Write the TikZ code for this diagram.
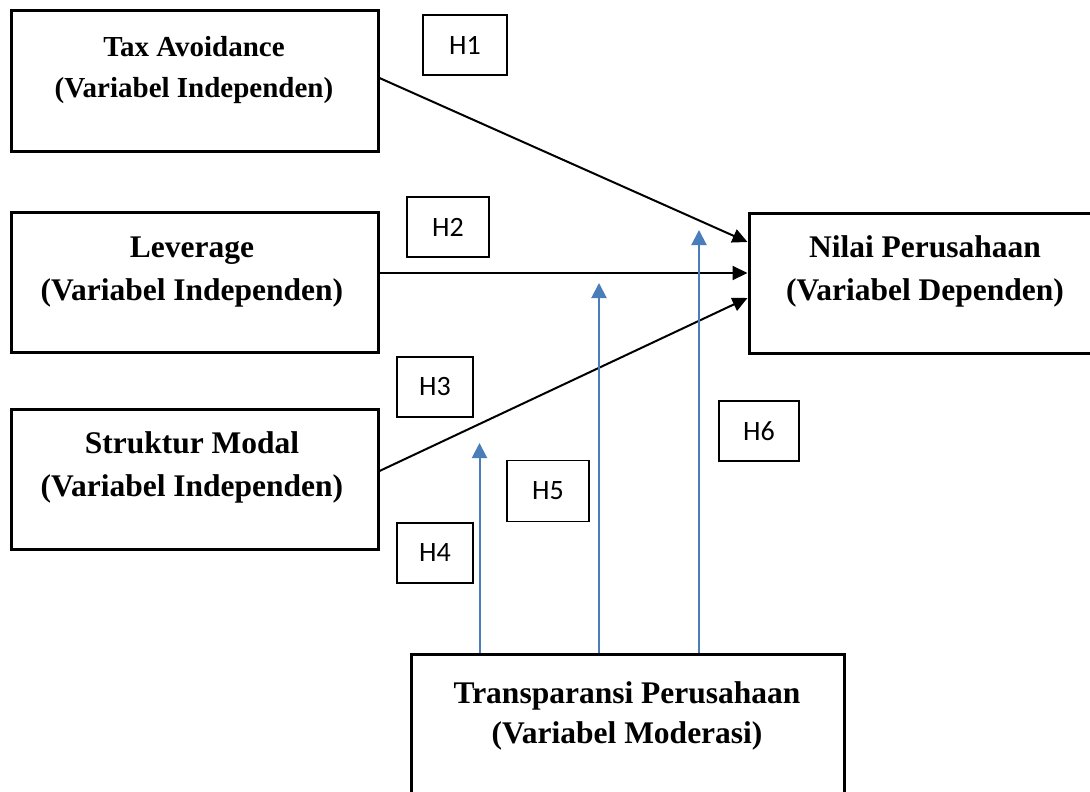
\documentclass[tikz,border=0pt]{standalone}
\usepackage{fontspec}
\setmainfont{Liberation Serif}
\newfontfamily\hfont{Carlito}
\usetikzlibrary{arrows.meta,calc}
\definecolor{modblue}{RGB}{74,126,187}
\begin{document}
\begin{tikzpicture}[x=1pt,y=-1pt,
  varbox/.style={draw=black,line width=3pt,rectangle,inner sep=0pt},
  vartxt/.style={anchor=base,inner sep=0pt,font=\bfseries\fontsize{31.5}{38}\selectfont},
  smalltxt/.style={anchor=base,inner sep=0pt,font=\bfseries\fontsize{29}{35}\selectfont},
  hbox/.style={draw=black,line width=1.3pt,rectangle,inner sep=0pt,font=\hfont\fontsize{28}{32}\selectfont},
  blk/.style={draw=black,line width=2pt,-{Triangle[length=15pt,width=14pt]}},
  blu/.style={draw=modblue,line width=2pt,-{Triangle[length=15pt,width=15pt]}}]
\useasboundingbox (0,0) rectangle (1090,792);
\clip (0,0) rectangle (1090,792);
\fill[white] (0,0) rectangle (1090,792);
% main boxes
\node[varbox,minimum width=367pt,minimum height=140pt] (tax) at (194.5,81) {};
\node[varbox,minimum width=367pt,minimum height=140pt] (lev) at (194.5,282.5) {};
\node[varbox,minimum width=367pt,minimum height=140pt] (str) at (194.5,479) {};
\node[varbox,minimum width=354pt,minimum height=140pt] (nilai) at (926,283) {};
\node[varbox,minimum width=433pt,minimum height=150pt] (trans) at (627.5,729) {};
% texts
\node[smalltxt] (taxa) at (194,57) {Tax Avoidance};
\node[smalltxt] (taxb) at (194,97) {(Variabel Independen)};
\node[vartxt] (leva) at (192,257) {Leverage};
\node[vartxt] (levb) at (192,300) {(Variabel Independen)};
\node[vartxt] (stra) at (192,453) {Struktur Modal};
\node[vartxt] (strb) at (192,496) {(Variabel Independen)};
\node[vartxt] (nila) at (925,257) {Nilai Perusahaan};
\node[vartxt] (nilb) at (925,300) {(Variabel Dependen)};
\node[vartxt] (tra) at (627,703) {Transparansi Perusahaan};
\node[vartxt] (trb) at (627,743) {(Variabel Moderasi)};
% hypothesis labels
\node[hbox,minimum width=84pt,minimum height=60pt] (h1) at (465,45) {H1};
\node[hbox,minimum width=82pt,minimum height=60pt] (h2) at (448,227) {H2};
\node[hbox,minimum width=76pt,minimum height=60pt] (h3) at (435,387) {H3};
\node[hbox,minimum width=76pt,minimum height=60pt] (h4) at (435,553) {H4};
\node[hbox,minimum width=82pt,minimum height=61pt] (h5) at (548,491) {H5};
\node[hbox,minimum width=80pt,minimum height=60pt] (h6) at (759,431) {H6};
% black arrows
\draw[blk] ($(tax.east)+(0,-3)$) -- ($(nilai.west)+(0,-41)$);
\draw[blk] ($(lev.east)+(0,-9.5)$) -- ($(nilai.west)+(0,-10)$);
\draw[blk] ($(str.east)+(0,-8)$) -- ($(nilai.west)+(0,15)$);
% blue moderation arrows
\coordinate (m4) at (479.5,443);
\coordinate (m5) at (599,283);
\coordinate (m6) at (699,230);
\draw[blu] (trans.north -| m4) -- (m4);
\draw[blu] (trans.north -| m5) -- (m5);
\draw[blu] (trans.north -| m6) -- (m6);
\end{tikzpicture}
\end{document}
